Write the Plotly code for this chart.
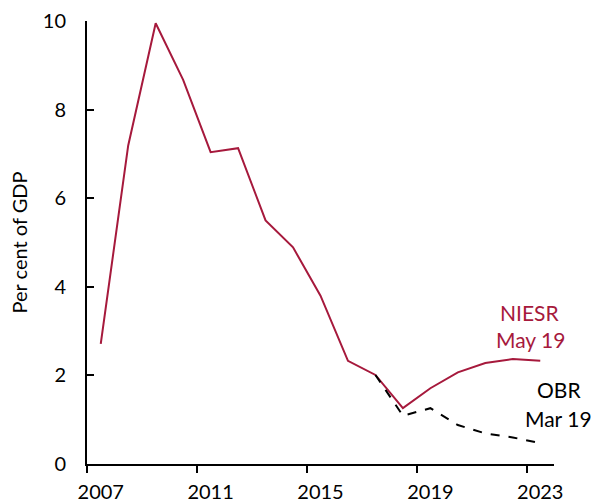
import plotly.graph_objects as go

# Fiscal-year positions (plotted at mid-year)
niesr_years = [2007.5, 2008.5, 2009.5, 2010.5, 2011.5, 2012.5, 2013.5, 2014.5, 2015.5,
               2016.5, 2017.5, 2018.5, 2019.5, 2020.5, 2021.5, 2022.5, 2023.5]
niesr_values = [2.71, 7.19, 9.95, 8.67, 7.04, 7.13, 5.50, 4.89, 3.80,
                2.33, 2.01, 1.26, 1.71, 2.07, 2.28, 2.37, 2.33]

obr_years = [2017.5, 2018.5, 2019.5, 2020.5, 2021.5, 2022.5, 2023.5]
obr_values = [2.01, 1.09, 1.26, 0.88, 0.69, 0.60, 0.47]

tick_years = [2007, 2011, 2015, 2019, 2023]
tick_labels = ["2007", "2011", "2015", "2019", "2023"]
y_ticks = [0, 2, 4, 6, 8, 10]

RED = "#A6193C"
FONT = "Lato"

fig = go.Figure()
fig.add_trace(go.Scatter(x=niesr_years, y=niesr_values, mode="lines",
                         line=dict(color=RED, width=2), hoverinfo="skip"))
fig.add_trace(go.Scatter(x=obr_years, y=obr_values, mode="lines",
                         line=dict(color="black", width=2, dash="dash"), hoverinfo="skip"))
# invisible trace to anchor the label axis
fig.add_trace(go.Scatter(x=[tick_years[0] + 0.5], y=[0], xaxis="x2", mode="lines",
                         line=dict(width=0), showlegend=False, hoverinfo="skip"))

fig.update_layout(
    width=595, height=504,
    margin=dict(l=87, r=41, t=21, b=40, autoexpand=False),
    paper_bgcolor="white", plot_bgcolor="white",
    showlegend=False,
    font=dict(family=FONT, size=20, color="black"),
    xaxis=dict(range=[2007, 2024], tickvals=tick_years, ticktext=[""] * len(tick_years),
               ticks="outside", ticklen=7, tickwidth=2, tickcolor="black",
               showline=True, linecolor="black", linewidth=2, automargin=False,
               showgrid=False, zeroline=False),
    xaxis2=dict(range=[2007, 2024], overlaying="x", side="bottom", anchor="y",
                tickvals=[t + 0.5 for t in tick_years], ticktext=tick_labels,
                ticks="", showline=False, showgrid=False, zeroline=False,
                ticklabelstandoff=14, automargin=False,
                tickfont=dict(family=FONT, size=20, color="black")),
    yaxis=dict(range=[0, 10], tickvals=y_ticks, ticks="inside", ticklen=7, tickwidth=2,
               tickcolor="black", showline=True, linecolor="black", linewidth=2,
               showgrid=False, zeroline=False, ticklabelstandoff=15, automargin=False,
               tickfont=dict(family=FONT, size=20, color="black"),
               title=dict(text="Per cent of GDP", standoff=10,
                          font=dict(family=FONT, size=20, color="black"))),
)

ann = [
    ("NIESR", 0.948, 0.343, RED),
    ("May 19", 0.950, 0.281, RED),
    ("OBR", 1.011, 0.169, "black"),
    ("Mar 19", 1.009, 0.103, "black"),
]
for text, x, y, c in ann:
    fig.add_annotation(x=x, y=y, xref="paper", yref="paper", text=text, showarrow=False,
                       xanchor="center", yanchor="middle",
                       font=dict(family=FONT, size=21, color=c))

fig.write_html("out.html", config={"displayModeBar": False},
               post_script="document.body.style.margin='0';document.body.style.overflow='hidden';")
